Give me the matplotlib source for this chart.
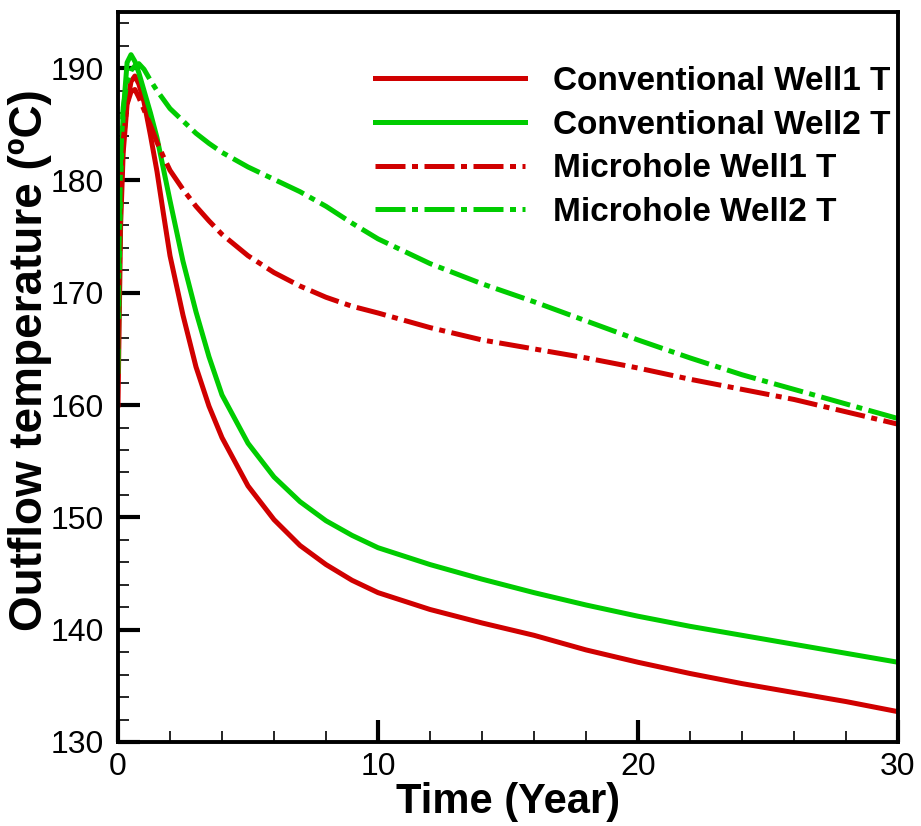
#!/usr/bin/env python
# coding: utf-8

r"""Outflow temperature of conventional vs microhole wells over 30 years"""

import numpy as np
import matplotlib
matplotlib.use("Agg")
import matplotlib.pyplot as plt
from matplotlib.ticker import MultipleLocator

plt.rcParams['font.family'] = ['Liberation Sans', 'DejaVu Sans']

# time in years
time = np.array([0, 0.1, 0.2, 0.35, 0.5, 0.65, 0.8, 1.0, 1.25, 1.5, 1.75, 2.0,
                 2.5, 3.0, 3.5, 4.0, 5.0, 6.0, 7.0, 8.0, 9.0, 10, 12, 14, 16,
                 18, 20, 22, 24, 26, 28, 30])

conv_well1 = np.array([160.0, 176.0, 182.5, 186.8, 188.8, 189.3, 188.6, 187.0,
                       184.0, 180.8, 177.0, 173.3, 168.0, 163.4, 159.9, 157.1,
                       152.8, 149.8, 147.5, 145.8, 144.4, 143.3, 141.8, 140.6,
                       139.5, 138.2, 137.1, 136.1, 135.2, 134.4, 133.6, 132.7])

conv_well2 = np.array([163.0, 180.0, 186.0, 190.5, 191.2, 190.6, 189.6, 188.0,
                       186.0, 183.8, 181.0, 178.2, 172.8, 168.3, 164.3, 160.9,
                       156.6, 153.6, 151.4, 149.7, 148.4, 147.3, 145.8, 144.5,
                       143.3, 142.2, 141.2, 140.3, 139.5, 138.7, 137.9, 137.1])

micro_well1 = np.array([165.0, 178.0, 183.5, 186.8, 187.9, 188.1, 187.4, 186.3,
                        184.9, 183.4, 182.1, 180.9, 179.2, 177.7, 176.4, 175.2,
                        173.3, 171.8, 170.6, 169.6, 168.8, 168.2, 166.9, 165.8,
                        165.0, 164.2, 163.3, 162.3, 161.4, 160.5, 159.4, 158.3])

micro_well2 = np.array([168.0, 182.0, 186.5, 188.8, 189.8, 190.2, 190.4, 189.9,
                        188.9, 188.0, 187.2, 186.4, 185.3, 184.2, 183.3, 182.5,
                        181.2, 180.1, 179.0, 177.7, 176.2, 174.8, 172.6, 170.8,
                        169.2, 167.5, 165.8, 164.2, 162.7, 161.4, 160.1, 158.8])

labels = ["Conventional Well1 T", "Conventional Well2 T",
          "Microhole Well1 T", "Microhole Well2 T"]

red = '#d00000'
green = '#00cc00'
lw = 3.6
dashdot = (6, 1.3, 1.2, 1.3)

fig = plt.figure(figsize=(9.21, 8.26), dpi=100)
ax = fig.add_axes([118 / 921, 1 - 742 / 826, (898 - 118) / 921, (742 - 12) / 826])

ax.plot(time, conv_well1, color=red, lw=lw, label=labels[0])
ax.plot(time, conv_well2, color=green, lw=lw, label=labels[1])
ax.plot(time, micro_well1, color=red, lw=lw, dashes=dashdot, label=labels[2])
ax.plot(time, micro_well2, color=green, lw=lw, dashes=dashdot, label=labels[3])

ax.set_xlim(0, 30)
ax.set_ylim(130, 195)
ax.xaxis.set_major_locator(MultipleLocator(10))
ax.xaxis.set_minor_locator(MultipleLocator(2))
ax.yaxis.set_minor_locator(MultipleLocator(2))
ax.set_yticks([130, 140, 150, 160, 170, 180, 190])

for sp in ax.spines.values():
    sp.set_linewidth(2.8)

ax.tick_params(which='major', direction='in', length=16, width=3,
               labelsize=23, pad=7, top=False, right=False)
ax.tick_params(which='minor', direction='in', length=8, width=1.2,
               top=False, right=False)
ax.tick_params(axis='y', which='major', pad=10)

ax.set_xlabel("Time (Year)", fontsize=30, fontweight='bold', labelpad=0)
ax.set_ylabel("Outflow temperature (\u00baC)", fontsize=33, fontweight='bold')
# label sits a bit above the axes centre in the original
ax.yaxis.set_label_coords(-0.085, 0.523)

leg = ax.legend(loc='upper left', bbox_to_anchor=(375 / 921, 1 - 66 / 826),
                bbox_transform=fig.transFigure, frameon=False, borderpad=0,
                borderaxespad=0, handlelength=4.5, handletextpad=0.85,
                labelspacing=0.38, prop={'weight': 'bold', 'size': 24})

fig.savefig("out.png", dpi=100)
